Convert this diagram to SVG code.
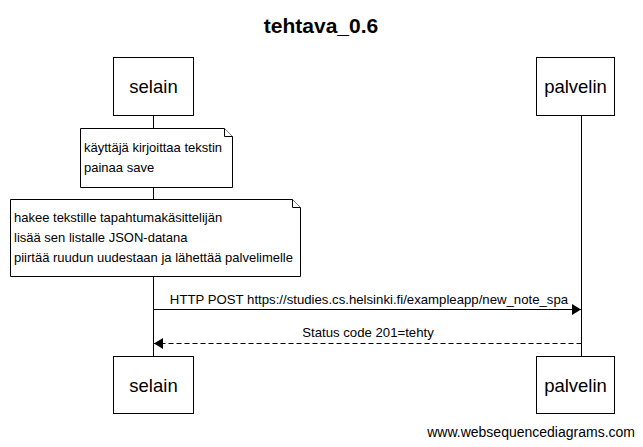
<svg xmlns="http://www.w3.org/2000/svg" width="643" height="447" viewBox="0 0 643 447">
<defs>
<style>
text{font-family:"Liberation Sans",Arial,sans-serif;fill:#000}
.box{fill:#fff;stroke:#000;stroke-width:1}
.note{fill:#fff;stroke:#000;stroke-width:1}
.lbl{font-size:18.5px;text-anchor:middle}
.nt{font-size:13px}
.msg{font-size:13.2px;text-anchor:middle}
.life{stroke:#000;stroke-width:1}
</style>
<marker id="ah" viewBox="0 0 9 11" refX="9" refY="5.5" markerWidth="9" markerHeight="11" markerUnits="userSpaceOnUse" orient="auto">
<path d="M0,0 L9,5.5 L0,11 z" fill="#000"/>
</marker>
</defs>
<rect width="643" height="447" fill="#fff"/>
<text x="321" y="33" font-size="21" font-weight="bold" text-anchor="middle">tehtava_0.6</text>
<g id="lifelines">
<line class="life" x1="153.5" y1="115" x2="153.5" y2="356"/>
<line class="life" x1="581.5" y1="115" x2="581.5" y2="356"/>
</g>
<g id="selain-top"><rect class="box" x="113.5" y="57.5" width="80" height="58"/><text class="lbl" x="153.5" y="93">selain</text></g>
<g id="palvelin-top"><rect class="box" x="536.5" y="57.5" width="78" height="58"/><text class="lbl" x="575.5" y="93">palvelin</text></g>
<g id="note1">
<path class="note" d="M80.5,128.5 H224.5 L232.5,136.5 V187.5 H80.5 Z"/>
<path class="note" d="M224.5,128.5 V136.5 H232.5" fill="none"/>
<text class="nt" x="84" y="152">käyttäjä kirjoittaa tekstin</text>
<text class="nt" x="84" y="172">painaa save</text>
</g>
<g id="note2">
<path class="note" d="M10.5,199.5 H292.5 L300.5,207.5 V276.5 H10.5 Z"/>
<path class="note" d="M292.5,199.5 V207.5 H300.5" fill="none"/>
<text class="nt" x="14" y="222">hakee tekstille tapahtumakäsittelijän</text>
<text class="nt" x="14" y="242">lisää sen listalle JSON-datana</text>
<text class="nt" x="14" y="262">piirtää ruudun uudestaan ja lähettää palvelimelle</text>
</g>
<g id="connectors">
<line x1="153.5" y1="309.5" x2="581" y2="309.5" stroke="#000" marker-end="url(#ah)"/>
<text class="msg" x="369" y="304">HTTP POST https://studies.cs.helsinki.fi/exampleapp/new_note_spa</text>
<line x1="581.5" y1="343.5" x2="154" y2="343.5" stroke="#000" stroke-dasharray="5,3" marker-end="url(#ah)"/>
<text class="msg" x="368" y="337">Status code 201=tehty</text>
</g>
<g id="selain-bottom"><rect class="box" x="113.5" y="356.5" width="80" height="57"/><text class="lbl" x="153.5" y="392">selain</text></g>
<g id="palvelin-bottom"><rect class="box" x="536.5" y="356.5" width="78" height="57"/><text class="lbl" x="575.5" y="392">palvelin</text></g>
<text x="635" y="437" font-size="14" text-anchor="end">www.websequencediagrams.com</text>
</svg>
